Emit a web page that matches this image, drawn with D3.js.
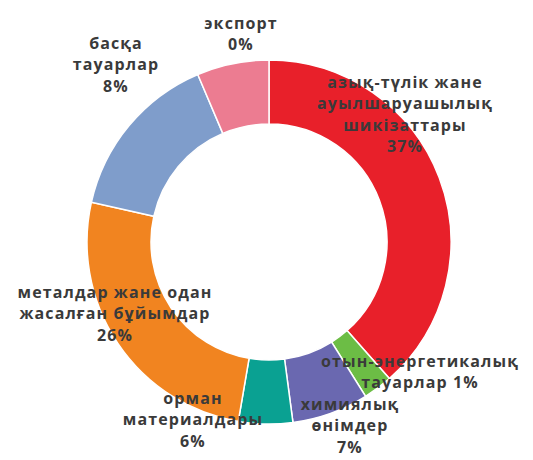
<!DOCTYPE html>
<html>
<head>
<meta charset="utf-8">
<script src="https://cdn.jsdelivr.net/npm/d3@7"></script>
<style>
  body { margin: 0; background: #fff; }
  text { font-family: "Open Sans", "Noto Sans", sans-serif; font-weight: 700; fill: #3a3a3a; }
</style>
</head>
<body>
<svg id="chart" width="533" height="460"></svg>
<script>
// slice shares (clockwise from 12 o'clock)
const categories = ["азық-түлік", "отын-энергетикалық", "химиялық", "орман", "металдар", "басқа", "экспорт"]
const shares = [38.5, 2.6, 6.8, 4.8, 25.8, 15.1, 6.4]
const colors = ["#e8202a", "#6cbd45", "#6a68b0", "#0aa192", "#f18420", "#7f9dcb", "#ec7c91"]

// printed labels, as in the picture
const labelLines = [
  ["азық-түлік жане", "ауылшаруашылық", "шикізаттары", "37%"],
  ["отын-энергетикалық", "тауарлар 1%"],
  ["химиялық", "өнімдер", "7%"],
  ["орман", "материалдары", "6%"],
  ["металдар жане одан", "жасалған бұйымдар", "26%"],
  ["басқа", "тауарлар", "8%"],
  ["экспорт", "0%"]
]
// label centres (x, y of first line)
const labelPos = [[405, 82], [420, 361], [350, 404], [193, 398], [115, 292], [116, 43], [241, 23]]

const svg = d3.select("#chart")
const cx = 269, cy = 242
const rOuter = 182, rInner = 118

const pie = d3.pie().sort(null).value(d => d)
const arc = d3.arc().innerRadius(rInner).outerRadius(rOuter)

const g = svg.append("g").attr("transform", `translate(${cx},${cy})`)

g.selectAll("path")
  .data(pie(shares))
  .join("path")
  .attr("d", arc)
  .attr("fill", (d, i) => colors[i])
  .attr("stroke", "#fff")
  .attr("stroke-width", 1.5)

const lab = svg.append("g")
  .selectAll("text")
  .data(labelLines)
  .join("text")
  .attr("text-anchor", "middle")
  .attr("font-size", 16)
  .attr("letter-spacing", 1.1)

lab.each(function (lines, i) {
  const t = d3.select(this)
  lines.forEach((s, j) => {
    t.append("tspan")
      .attr("x", labelPos[i][0])
      .attr("y", labelPos[i][1] + j * 21.5)
      .attr("dy", "0.35em")
      .text(s)
  })
})
</script>
</body>
</html>
